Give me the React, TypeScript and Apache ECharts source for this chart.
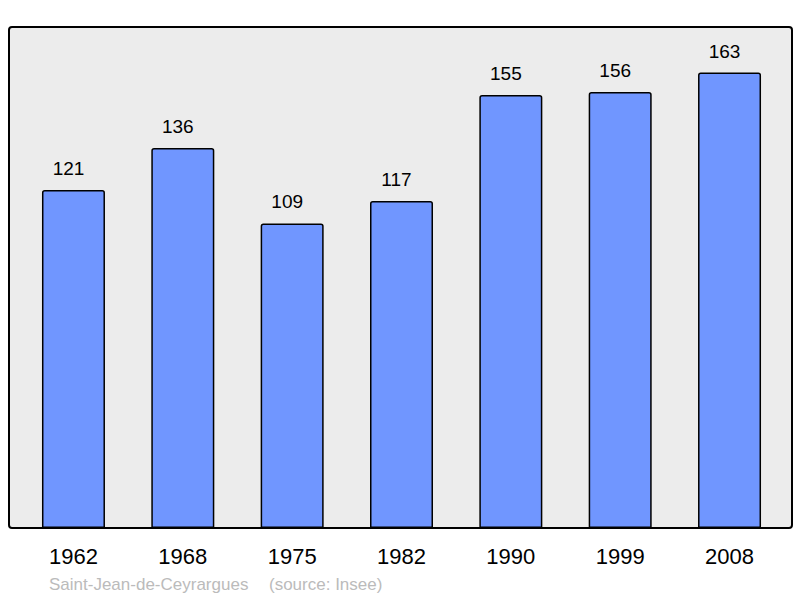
import React, { useEffect, useRef } from "react";
import * as echarts from "echarts";

const years = ["1962", "1968", "1975", "1982", "1990", "1999", "2008"];
const population = [121, 136, 109, 117, 155, 156, 163];
const place = "Saint-Jean-de-Ceyrargues";
const source = "(source: Insee)";

const FONT = "'Liberation Sans', Arial, sans-serif";

export default function App() {
  const ref = useRef<HTMLDivElement>(null);
  useEffect(() => {
    if (!ref.current) return;
    const chart = echarts.init(ref.current, undefined, { renderer: "svg" });
    chart.setOption({
      animation: false,
      backgroundColor: "#ffffff",
      grid: { left: 18.8, right: 15.8, top: 27, bottom: 70, containLabel: false },
      xAxis: {
        type: "category",
        data: years,
        axisLine: { show: false },
        axisTick: { show: false },
        axisLabel: { color: "#000", fontSize: 22, fontFamily: FONT, margin: 17 },
      },
      yAxis: {
        type: "value",
        min: 0,
        max: 179.3,
        show: false,
        splitLine: { show: false },
      },
      graphic: [
        {
          type: "rect",
          z: -10,
          shape: { x: 9, y: 27, width: 783, height: 501, r: 3 },
          style: { fill: "#ececec", stroke: "#000", lineWidth: 2 },
        },
        {
          type: "text",
          x: 49,
          y: 584,
          style: {
            text: place,
            fill: "#bbbbbb",
            fontSize: 17,
            fontFamily: FONT,
            verticalAlign: "middle",
          },
        },
        {
          type: "text",
          x: 269,
          y: 584,
          style: {
            text: source,
            fill: "#bbbbbb",
            fontSize: 17,
            fontFamily: FONT,
            verticalAlign: "middle",
          },
        },
      ],
      series: [
        {
          type: "bar",
          data: population,
          barWidth: 63,
          z: 5,
          itemStyle: {
            color: "#7096ff",
            borderColor: "#000",
            borderWidth: 1.5,
            borderRadius: [2, 2, 0, 0],
          },
          label: {
            show: true,
            position: "top",
            distance: 12,
            offset: [-5, 0],
            color: "#000",
            fontSize: 19,
            fontFamily: FONT,
          },
        },
      ],
    });
    return () => chart.dispose();
  }, []);
  return (
    <div
      ref={ref}
      style={{ position: "absolute", left: 0, top: 0, width: 800, height: 598 }}
    />
  );
}
